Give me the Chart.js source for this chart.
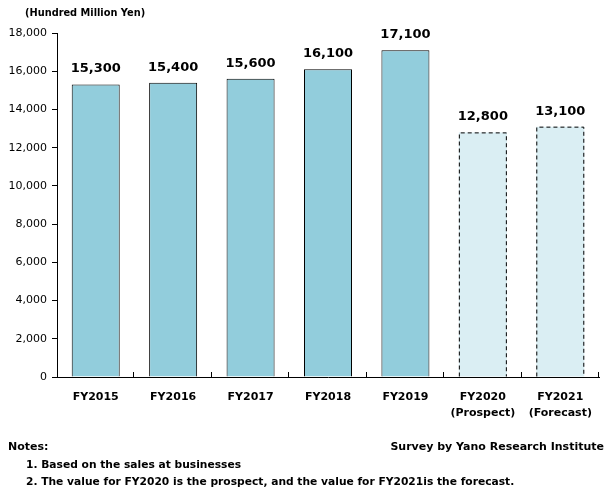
<!DOCTYPE html>
<html>
<head>
<meta charset="utf-8">
<script src="https://cdn.jsdelivr.net/npm/chart.js@4"></script>
<style>
  html, body { margin: 0; padding: 0; background: #fff; }
  #wrap { position: relative; width: 609px; height: 492px; font-family: "DejaVu Sans", sans-serif; font-weight: bold; color: #000; }
  #chart { position: absolute; left: 0; top: 0; }
  .txt { position: absolute; white-space: nowrap; font-size: 10.7px; }
</style>
</head>
<body>
<div id="wrap">
  <canvas id="chart" width="609" height="492"></canvas>
  <div class="txt" style="left:25px; top:7px; font-size:9.8px;">(Hundred Million Yen)</div>
  <div class="txt" style="left:8px; top:440px; font-size:11px;">Notes:</div>
  <div class="txt" style="right:5px; top:440px; font-size:11px;">Survey by Yano Research Institute</div>
  <div class="txt" style="left:26px; top:458px;">1. Based on the sales at businesses</div>
  <div class="txt" style="left:26px; top:475px;">2. The value for FY2020 is the prospect, and the value for FY2021is the forecast.</div>
</div>
<script>
const categories = [['FY2015'], ['FY2016'], ['FY2017'], ['FY2018'], ['FY2019'], ['FY2020', '(Prospect)'], ['FY2021', '(Forecast)']];
const marketSize = [15300, 15400, 15600, 16100, 17100, 12800, 13100];
const isEstimate = [false, false, false, false, false, true, true];
const yTicks = [0, 2000, 4000, 6000, 8000, 10000, 12000, 14000, 16000, 18000];

const FONT = '"DejaVu Sans", sans-serif';

// labels above bars + dashed outline for prospect/forecast bars
const barExtras = {
  id: 'barExtras',
  afterDatasetsDraw(chart) {
    const ctx = chart.ctx;
    const meta = chart.getDatasetMeta(0);
    meta.data.forEach((bar, i) => {
      const left = bar.x - bar.width / 2;
      if (isEstimate[i]) {
        ctx.save();
        ctx.strokeStyle = '#000';
        ctx.lineWidth = 1;
        ctx.setLineDash([4, 3]);
        ctx.beginPath();
        ctx.moveTo(left + 0.5, bar.base);
        ctx.lineTo(left + 0.5, bar.y + 0.5);
        ctx.lineTo(left + bar.width - 0.5, bar.y + 0.5);
        ctx.lineTo(left + bar.width - 0.5, bar.base);
        ctx.stroke();
        ctx.restore();
      }
      ctx.save();
      ctx.fillStyle = '#000';
      ctx.font = 'bold 13px ' + FONT;
      ctx.textAlign = 'center';
      ctx.textBaseline = 'bottom';
      ctx.fillText(marketSize[i].toLocaleString('en-US'), bar.x, bar.y - 9);
      ctx.restore();
    });
    // small inward ticks on the x axis at category boundaries
    const xs = chart.scales.x;
    const step = (xs.right - xs.left) / categories.length;
    ctx.save();
    ctx.strokeStyle = '#000';
    ctx.lineWidth = 1;
    for (let i = 1; i <= categories.length; i++) {
      const px = Math.round(xs.left + step * i) - 0.5;
      ctx.beginPath();
      ctx.moveTo(px, chart.chartArea.bottom);
      ctx.lineTo(px, chart.chartArea.bottom - 5);
      ctx.stroke();
    }
    ctx.restore();
  }
};

new Chart(document.getElementById('chart').getContext('2d'), {
  type: 'bar',
  data: {
    labels: categories,
    datasets: [{
      data: marketSize,
      backgroundColor: isEstimate.map(e => e ? '#DAEEF3' : '#92CDDC'),
      borderColor: '#000',
      borderWidth: isEstimate.map(e => e ? 0 : 1),
      borderSkipped: 'bottom',
      barPercentage: 0.62,
      categoryPercentage: 1
    }]
  },
  options: {
    responsive: false,
    animation: false,
    layout: { padding: { top: 33, right: 10, left: 0, bottom: 0 } },
    plugins: { legend: { display: false }, tooltip: { enabled: false } },
    scales: {
      x: {
        afterFit(scale) { scale.height = 115; },
        grid: { display: false },
        border: { display: true, color: '#000', width: 1 },
        ticks: {
          color: '#000',
          padding: 4,
          maxRotation: 0,
          font: { family: FONT, size: 11, weight: 'bold', lineHeight: 1.45 }
        }
      },
      y: {
        min: 0,
        max: 18000,
        afterFit(scale) { scale.width = 57; },
        afterBuildTicks(scale) { scale.ticks = yTicks.map(v => ({ value: v })); },
        grid: { drawOnChartArea: false, tickLength: 5, color: '#000' },
        border: { display: true, color: '#000', width: 1 },
        ticks: {
          color: '#000',
          padding: 5,
          font: { family: FONT, size: 11 },
          callback: v => v.toLocaleString('en-US')
        }
      }
    }
  },
  plugins: [barExtras]
});
</script>
</body>
</html>
